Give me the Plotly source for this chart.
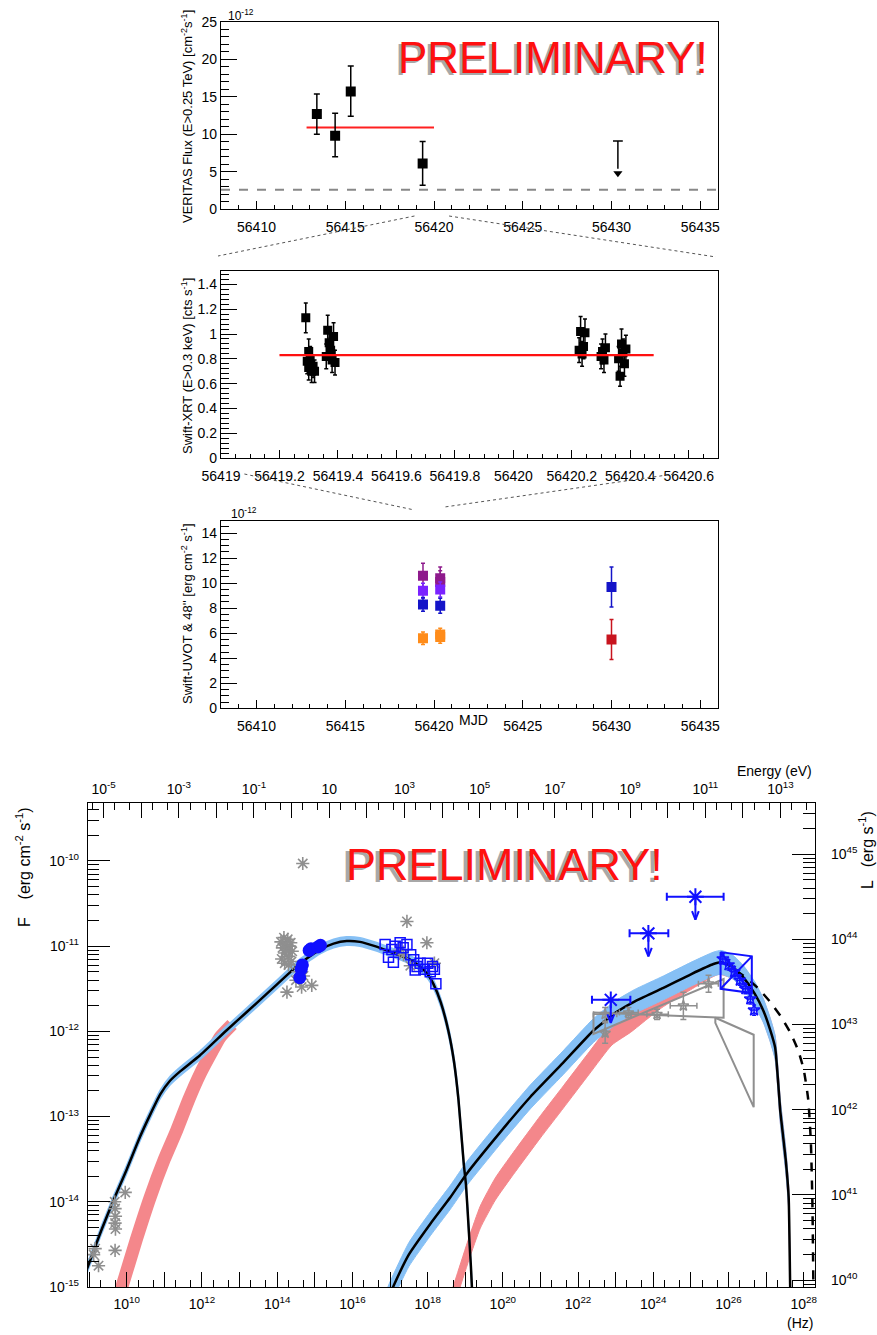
import plotly.graph_objects as go

W, H = 877, 1335
FONT = "Liberation Sans, Arial, Helvetica, sans-serif"

# ---------------- Panel 1 : VERITAS light curve ----------------
ver_mjd = [56413.40, 56414.43, 56415.31, 56419.36]
ver_flux = [12.7, 9.8, 15.7, 6.1]
ver_err_hi = [2.65, 3.0, 3.4, 2.95]
ver_err_lo = [2.7, 2.8, 3.3, 2.9]
ver_ul_mjd = [56430.36]
ver_ul_flux = [9.1]
ver_ul_tip = [4.8]
ver_mean_mjd = [56412.82, 56420.0]
ver_mean_flux = [10.9, 10.9]
ver_ref_flux = [2.6, 2.6]

# ---------------- Panel 2 : Swift-XRT ----------------
xrt_mjd = [56419.290, 56419.295, 56419.300, 56419.300, 56419.305, 56419.310, 56419.315, 56419.320,
           56419.360, 56419.365, 56419.370, 56419.375, 56419.380, 56419.385, 56419.390,
           56420.225, 56420.230, 56420.235, 56420.240, 56420.245,
           56420.300, 56420.305, 56420.310, 56420.315,
           56420.360, 56420.365, 56420.370, 56420.375, 56420.380, 56420.385]
xrt_rate = [1.13, 0.78, 0.73, 0.86, 0.80, 0.70, 0.74, 0.70,
            0.82, 1.03, 0.93, 0.87, 0.79, 0.98, 0.77,
            0.87, 1.02, 0.84, 0.90, 1.01,
            0.82, 0.86, 0.79, 0.89,
            0.80, 0.66, 0.92, 0.85, 0.76, 0.88]
xrt_err = [0.12, 0.10, 0.10, 0.10, 0.10, 0.09, 0.09, 0.09,
           0.10, 0.12, 0.11, 0.10, 0.10, 0.11, 0.10,
           0.10, 0.12, 0.10, 0.10, 0.11,
           0.10, 0.10, 0.10, 0.11,
           0.10, 0.08, 0.12, 0.11, 0.10, 0.11]
xrt_mean_mjd = [56419.20, 56420.48]
xrt_mean_rate = [0.83, 0.83]

# ---------------- Panel 3 : Swift-UVOT ----------------
uvot_purple_mjd = [56419.38, 56420.35, 56420.35]
uvot_purple_flux = [10.6, 10.4, 10.1]
uvot_purple_err = [1.0, 0.9, 0.9]
uvot_violet_mjd = [56419.38, 56420.35]
uvot_violet_flux = [9.4, 9.5]
uvot_violet_err = [0.6, 0.6]
uvot_blue_mjd = [56419.38, 56420.35, 56430.0]
uvot_blue_flux = [8.3, 8.2, 9.7]
uvot_blue_err = [0.55, 0.6, 1.6]
uvot_orange_mjd = [56419.38, 56420.35, 56420.35]
uvot_orange_flux = [5.6, 5.9, 5.7]
uvot_orange_err = [0.5, 0.5, 0.5]
uvot_red_mjd = [56430.0]
uvot_red_flux = [5.5]
uvot_red_err = [1.6]

# ---------------- Panel 4 : SED (log10 nu [Hz], log10 nuFnu [erg cm-2 s-1]) ----------------
sync_lognu = [8.90, 9.32, 9.65, 10.0, 10.35, 10.62, 10.89, 11.15, 11.42, 11.95, 12.65, 13.2, 13.72,
              14.26, 14.61, 15.14, 15.5, 15.85, 16.2, 16.6, 17.09, 17.5, 17.8, 18.0, 18.15, 18.35,
              18.55, 18.7, 18.82, 18.96, 19.02, 19.09, 19.15, 19.2]
sync_logF = [-14.84, -14.34, -13.98, -13.62, -13.24, -12.98, -12.74, -12.58, -12.47, -12.28, -11.99,
             -11.77, -11.56, -11.34, -11.2, -11.04, -10.97, -10.94, -10.95, -11.0, -11.08, -11.15,
             -11.24, -11.33, -11.44, -11.66, -11.99, -12.35, -12.8, -13.55, -13.8, -14.3, -14.75, -15.2]
sync_band_dex = 0.05
ic_lognu = [16.75, 17.0, 17.5, 18.07, 18.6, 19.04, 19.9, 20.73, 21.6, 22.41, 23.0, 23.5, 24.27, 25.0,
            25.6, 25.8, 26.1, 26.4, 26.7, 26.93, 27.1, 27.24, 27.38, 27.52, 27.6, 27.64, 27.66]
ic_logF = [-15.35, -15.08, -14.62, -14.26, -13.95, -13.67, -13.2, -12.77, -12.37, -11.99, -11.78, -11.65,
           -11.49, -11.33, -11.21, -11.19, -11.24, -11.37, -11.56, -11.76, -11.97, -12.19, -12.95,
           -13.5, -13.95, -15.0, -15.3]
ic_band_dex = 0.14
ic_deabs_lognu = [26.2, 26.5, 26.8, 27.1, 27.4, 27.65, 27.85, 28.0, 28.12, 28.19, 28.23, 28.26]
ic_deabs_logF = [-11.29, -11.38, -11.5, -11.65, -11.83, -12.02, -12.22, -12.45, -12.8, -13.3, -14.0, -15.1]
low_sync_lognu = [9.72, 9.87, 10.25, 10.62, 11.0, 11.33, 11.65, 11.95, 12.25, 12.48, 12.8]
low_sync_logF = [-15.2, -15.0, -14.45, -13.95, -13.5, -13.16, -12.8, -12.5, -12.25, -12.07, -11.92]
low_ic_lognu = [18.4, 18.77, 19.1, 19.4, 19.8, 20.28, 21.0, 21.61, 22.3, 22.9, 23.4, 24.2, 25.0, 25.45,
                25.75, 26.1, 26.4, 26.7, 26.93, 27.1, 27.24, 27.38, 27.52, 27.6, 27.64, 27.66]
low_ic_logF = [-15.5, -15.0, -14.55, -14.18, -13.85, -13.55, -13.12, -12.77, -12.37, -12.03, -11.88,
               -11.6, -11.38, -11.26, -11.2, -11.25, -11.37, -11.56, -11.76, -11.97, -12.19, -12.95,
               -13.5, -13.95, -15.0, -15.3]
low_ic_band_dex = 0.13

arch_lognu = [9.12, 9.16, 9.25, 9.68, 9.69, 9.70, 9.69, 9.70, 9.69, 9.96,
              14.10, 14.14, 14.18, 14.20, 14.22, 14.25, 14.28, 14.30, 14.33, 14.36, 14.40, 14.12,
              14.20, 14.30, 14.38, 14.26, 14.50, 14.65, 14.92, 14.55, 14.70, 14.68,
              17.45, 17.98, 17.36, 18.18, 17.54, 17.25]
arch_logF = [-14.62, -14.55, -14.75, -14.00, -14.08, -14.17, -14.25, -14.32, -14.57, -13.89,
             -10.95, -11.02, -10.90, -11.08, -10.98, -11.05, -10.92, -11.12, -11.00, -10.96, -11.06,
             -11.15, -11.20, -11.22, -11.18, -11.54, -11.40, -11.48, -11.46, -11.30, -11.35, -10.03,
             -10.71, -10.96, -11.10, -11.20, -11.23, -11.05]

uvot_sed_lognu = [14.60, 14.64, 14.67, 14.85, 14.90, 15.08, 15.15]
uvot_sed_logF = [-11.37, -11.27, -11.22, -11.05, -11.03, -11.01, -10.99]

xrt_sed_lognu = [16.87, 16.96, 17.05, 17.09, 17.14, 17.27, 17.35, 17.45, 17.55, 17.63, 17.67, 17.72,
                 17.80, 17.90, 18.00, 18.07, 18.13, 18.18, 18.22]
xrt_sed_logF = [-10.98, -11.13, -11.04, -11.19, -11.00, -10.96, -11.02, -10.98, -11.10, -11.16, -11.28,
                -11.24, -11.20, -11.27, -11.20, -11.30, -11.24, -11.27, -11.44]

lat_ul_lognu = [22.87, 23.87, 25.12]
lat_ul_lo = [22.37, 23.37, 24.36]
lat_ul_hi = [23.39, 24.40, 25.87]
lat_ul_logF = [-11.63, -10.85, -10.42]

arch_lat_lognu = [22.72, 22.72, 23.34, 24.10, 24.80, 25.47]
arch_lat_lo = [22.41, 22.68, 23.10, 23.83, 24.45, 25.20]
arch_lat_hi = [23.03, 22.76, 23.60, 24.40, 25.16, 25.73]
arch_lat_logF = [-11.80, -12.02, -11.78, -11.80, -11.70, -11.44]
arch_lat_dF = [0.08, 0.12, 0.06, 0.06, 0.16, 0.10]

arch_bowtie_lognu = [22.41, 25.87, 25.87, 22.41, 22.41]
arch_bowtie_logF = [-11.78, -11.84, -11.385, -12.03, -11.78]
arch_vhe_bowtie_lognu = [25.65, 26.67, 26.67, 25.65, 25.65]
arch_vhe_bowtie_logF = [-11.84, -12.04, -12.89, -11.90, -11.84]

vts_lognu = [25.85, 26.00, 26.15, 26.30, 26.45, 26.58, 26.68]
vts_logF = [-11.15, -11.22, -11.30, -11.40, -11.50, -11.62, -11.75]
vts_bowtie_lognu = [25.79, 26.62, 26.62, 25.79, 25.79, 26.62, None, 25.79, 26.62]
vts_bowtie_logF = [-11.07, -11.12, -11.55, -11.50, -11.07, -11.55, None, -11.50, -11.12]

# axis geometry (pixels of the 877x1335 page)
PX_L, PX_R = 221, 718
MJD_RANGE = [56408, 56436]
XRT_RANGE = [56419, 56420.7]
LOGNU_RANGE = [8.97, 28.30]
LOGF_RANGE = [-15.0, -9.32]
LOG_HNU = -14.3835     # log10(h in eV s)
LOG_L_OFFSET = 54.92   # log10(4 pi d^2)


def lin(a):
    return [None if v is None else 10.0 ** v for v in a]


def band(lognu, logF, dex):
    xs = lin(lognu) + lin(lognu[::-1])
    ys = lin([v + dex for v in logF]) + lin([v - dex for v in logF[::-1]])
    return xs, ys


def xd(a, b):
    return [a / W, b / W]


def yd(top, bottom):
    return [1 - bottom / H, 1 - top / H]


def mjd_px(m):
    return PX_L + (m - MJD_RANGE[0]) / (MJD_RANGE[1] - MJD_RANGE[0]) * (PX_R - PX_L)


def xrt_px(m):
    return PX_L + (m - XRT_RANGE[0]) / (XRT_RANGE[1] - XRT_RANGE[0]) * (PX_R - PX_L)


fig = go.Figure()

# ---- panel 1 traces
fig.add_trace(go.Scatter(x=MJD_RANGE, y=ver_ref_flux, mode="lines", xaxis="x", yaxis="y",
                         line=dict(color="#888888", width=2, dash="dash"), hoverinfo="skip"))
fig.add_trace(go.Scatter(x=ver_mean_mjd, y=ver_mean_flux, mode="lines", xaxis="x", yaxis="y",
                         line=dict(color="#ff2020", width=1.8)))
fig.add_trace(go.Scatter(x=ver_mjd, y=ver_flux, mode="markers", xaxis="x", yaxis="y",
                         marker=dict(symbol="square", size=10, color="black"),
                         error_y=dict(type="data", array=ver_err_hi, arrayminus=ver_err_lo,
                                      color="black", thickness=1.5, width=3)))
fig.add_trace(go.Scatter(x=ver_ul_mjd * 2, y=[ver_ul_flux[0], ver_ul_tip[0] + 0.6], mode="lines",
                         xaxis="x", yaxis="y", line=dict(color="black", width=1.5)))
fig.add_trace(go.Scatter(x=ver_ul_mjd, y=ver_ul_tip, mode="markers", xaxis="x", yaxis="y",
                         marker=dict(symbol="triangle-down", size=8, color="black")))
fig.add_trace(go.Scatter(x=ver_ul_mjd, y=ver_ul_flux, mode="markers", xaxis="x", yaxis="y",
                         marker=dict(symbol="line-ew", size=7, line=dict(color="black", width=1.5))))

# ---- panel 2 traces
fig.add_trace(go.Scatter(x=xrt_mjd, y=xrt_rate, mode="markers", xaxis="x2", yaxis="y2",
                         marker=dict(symbol="square", size=9, color="black"),
                         error_y=dict(type="data", array=xrt_err, color="black", thickness=1.5, width=2)))
fig.add_trace(go.Scatter(x=xrt_mean_mjd, y=xrt_mean_rate, mode="lines", xaxis="x2", yaxis="y2",
                         line=dict(color="#ff1010", width=2.2)))

# ---- panel 3 traces
for mjd, fl, er, col in [(uvot_purple_mjd, uvot_purple_flux, uvot_purple_err, "#8e1a8c"),
                         (uvot_violet_mjd, uvot_violet_flux, uvot_violet_err, "#7a22ff"),
                         (uvot_blue_mjd, uvot_blue_flux, uvot_blue_err, "#1414c8"),
                         (uvot_orange_mjd, uvot_orange_flux, uvot_orange_err, "#ff8c1a"),
                         (uvot_red_mjd, uvot_red_flux, uvot_red_err, "#c8141e")]:
    fig.add_trace(go.Scatter(x=mjd, y=fl, mode="markers", xaxis="x3", yaxis="y3",
                             marker=dict(symbol="square", size=10, color=col),
                             error_y=dict(type="data", array=er, color=col, thickness=1.5, width=2)))

# ---- panel 4 (SED)
SPL = dict(shape="spline", smoothing=0.5)
RED_BAND = "#f4878b"
BLUE_BAND = "#86c0f5"
fig.add_trace(go.Scatter(x=lin(low_sync_lognu), y=lin(low_sync_logF), mode="lines", xaxis="x4", yaxis="y4",
                         line=dict(color=RED_BAND, width=13, **SPL)))
bx, by = band(low_ic_lognu, low_ic_logF, low_ic_band_dex)
fig.add_trace(go.Scatter(x=bx, y=by, mode="lines", fill="toself", fillcolor=RED_BAND, xaxis="x4", yaxis="y4",
                         line=dict(color=RED_BAND, width=1, **SPL)))
bx, by = band(sync_lognu, sync_logF, sync_band_dex)
fig.add_trace(go.Scatter(x=bx, y=by, mode="lines", fill="toself", fillcolor=BLUE_BAND, xaxis="x4", yaxis="y4",
                         line=dict(color=BLUE_BAND, width=1.5, **SPL)))
bx, by = band(ic_lognu, ic_logF, ic_band_dex)
fig.add_trace(go.Scatter(x=bx, y=by, mode="lines", fill="toself", fillcolor=BLUE_BAND, xaxis="x4", yaxis="y4",
                         line=dict(color=BLUE_BAND, width=1, **SPL)))
fig.add_trace(go.Scatter(x=lin(sync_lognu), y=lin(sync_logF), mode="lines", xaxis="x4", yaxis="y4",
                         line=dict(color="black", width=2.5, **SPL)))
fig.add_trace(go.Scatter(x=lin(ic_lognu), y=lin(ic_logF), mode="lines", xaxis="x4", yaxis="y4",
                         line=dict(color="black", width=2.5, **SPL)))
fig.add_trace(go.Scatter(x=lin(ic_deabs_lognu), y=lin(ic_deabs_logF), mode="lines", xaxis="x4", yaxis="y4",
                         line=dict(color="black", width=2.5, dash="dash", **SPL)))

GRAY = "#8f8f8f"
BLUE = "#1010ff"
# archival bowties and LAT points
fig.add_trace(go.Scatter(x=lin(arch_bowtie_lognu), y=lin(arch_bowtie_logF), mode="lines", xaxis="x4",
                         yaxis="y4", line=dict(color=GRAY, width=2)))
fig.add_trace(go.Scatter(x=lin(arch_vhe_bowtie_lognu), y=lin(arch_vhe_bowtie_logF), mode="lines",
                         xaxis="x4", yaxis="y4", line=dict(color=GRAY, width=2)))
ax = lin(arch_lat_lognu)
ay = lin(arch_lat_logF)
fig.add_trace(go.Scatter(
    x=ax, y=ay, mode="markers", xaxis="x4", yaxis="y4",
    marker=dict(symbol="star-open", size=8, color=GRAY, line=dict(color=GRAY, width=1.5)),
    error_x=dict(type="data", array=[10.0 ** h - v for h, v in zip(arch_lat_hi, ax)],
                 arrayminus=[v - 10.0 ** l for l, v in zip(arch_lat_lo, ax)], color=GRAY, thickness=1.5, width=3),
    error_y=dict(type="data", array=[v * (10.0 ** d - 1) for d, v in zip(arch_lat_dF, ay)],
                 arrayminus=[v * (1 - 10.0 ** -d) for d, v in zip(arch_lat_dF, ay)], color=GRAY, thickness=1.5,
                 width=3)))
# archival asterisks
fig.add_trace(go.Scatter(x=lin(arch_lognu), y=lin(arch_logF), mode="markers", xaxis="x4", yaxis="y4",
                         marker=dict(symbol="asterisk-open", size=11, color=GRAY,
                                     line=dict(color=GRAY, width=1.6))))
# UVOT and XRT SED points
fig.add_trace(go.Scatter(x=lin(uvot_sed_lognu), y=lin(uvot_sed_logF), mode="markers", xaxis="x4", yaxis="y4",
                         marker=dict(symbol="circle", size=13, color=BLUE)))
fig.add_trace(go.Scatter(x=lin(xrt_sed_lognu), y=lin(xrt_sed_logF), mode="markers", xaxis="x4", yaxis="y4",
                         marker=dict(symbol="square-open", size=10, color=BLUE, line=dict(color=BLUE, width=1.5))))
# LAT upper limits
ux = lin(lat_ul_lognu)
uy = lin(lat_ul_logF)
fig.add_trace(go.Scatter(
    x=ux, y=uy, mode="markers", xaxis="x4", yaxis="y4",
    marker=dict(symbol="asterisk-open", size=14, color=BLUE, line=dict(color=BLUE, width=2)),
    error_x=dict(type="data", array=[10.0 ** h - v for h, v in zip(lat_ul_hi, ux)],
                 arrayminus=[v - 10.0 ** l for l, v in zip(lat_ul_lo, ux)], color=BLUE, thickness=2, width=4)))
arrow_x, arrow_y = [], []
for xv, yv in zip(ux, uy):
    tip = yv * 10.0 ** -0.27
    arrow_x += [xv, xv, None, xv * 10.0 ** -0.09, xv, xv * 10.0 ** 0.09, None]
    arrow_y += [yv, tip, None, tip * 10.0 ** 0.1, tip, tip * 10.0 ** 0.1, None]
fig.add_trace(go.Scatter(x=arrow_x, y=arrow_y, mode="lines", xaxis="x4", yaxis="y4",
                         line=dict(color=BLUE, width=2)))
# VERITAS SED
fig.add_trace(go.Scatter(x=lin(vts_bowtie_lognu), y=lin(vts_bowtie_logF), mode="lines", xaxis="x4", yaxis="y4",
                         line=dict(color=BLUE, width=2)))
vx = lin(vts_lognu)
vy = lin(vts_logF)
fig.add_trace(go.Scatter(
    x=vx, y=vy, mode="markers", xaxis="x4", yaxis="y4",
    marker=dict(symbol="star-open", size=9, color=BLUE, line=dict(color=BLUE, width=1.5)),
    error_x=dict(type="data", array=[v * (10.0 ** 0.07 - 1) for v in vx],
                 arrayminus=[v * (1 - 10.0 ** -0.07) for v in vx], color=BLUE, thickness=1.5, width=2),
    error_y=dict(type="data", array=[v * (10.0 ** 0.06 - 1) for v in vy],
                 arrayminus=[v * (1 - 10.0 ** -0.06) for v in vy], color=BLUE, thickness=1.5, width=2)))
# anchors for the secondary SED axes
fig.add_trace(go.Scatter(x=[1.0], y=[1e-12], xaxis="x5", yaxis="y4", mode="markers",
                         marker=dict(opacity=0), hoverinfo="skip"))
fig.add_trace(go.Scatter(x=[1e15], y=[1e43], xaxis="x4", yaxis="y5", mode="markers",
                         marker=dict(opacity=0), hoverinfo="skip"))


# ---------------- axes ----------------
def ax_style(fs=14, **kw):
    d = dict(showline=True, linecolor="black", linewidth=1.3, mirror=True, ticks="inside",
             tickcolor="black", tickwidth=1.2, showgrid=False, zeroline=False, automargin=False,
             tickfont=dict(family=FONT, size=fs, color="black"))
    d.update(kw)
    return d


def minor_lin(step, ln):
    return dict(ticks="inside", dtick=step, ticklen=ln, tickcolor="black", tickwidth=1, showgrid=False)


def minor_vals(vals, ln):
    return dict(ticks="inside", tickmode="array", tickvals=vals, ticklen=ln, tickcolor="black",
                tickwidth=1, showgrid=False)


def sup(e):
    if e == 1:
        return "10"
    return "10<sup>%d</sup>" % e


mjd_ticks = [56410, 56415, 56420, 56425, 56430, 56435]
xrt_ticks = [56419.0, 56419.2, 56419.4, 56419.6, 56419.8, 56420.0, 56420.2, 56420.4, 56420.6]
xrt_ticktext = ["56419", "56419.2", "56419.4", "56419.6", "56419.8", "56420", "56420.2", "56420.4", "56420.6"]

layout = dict(
    width=W, height=H, margin=dict(l=0, r=0, t=0, b=0, pad=0, autoexpand=False),
    paper_bgcolor="white", plot_bgcolor="white", showlegend=False,
    xaxis=ax_style(domain=xd(PX_L, PX_R), range=MJD_RANGE, anchor="y", tickvals=mjd_ticks,
                   ticktext=[str(v) for v in mjd_ticks], ticklen=8,
                   minor=minor_lin(1, 4), ticklabelstandoff=5),
    yaxis=ax_style(domain=yd(21.7, 209.3), range=[0, 25], anchor="x", dtick=5, ticklen=16,
                   minor=minor_lin(1, 8)),
    xaxis2=ax_style(domain=xd(PX_L, PX_R), range=XRT_RANGE, anchor="y2", tickvals=xrt_ticks,
                    ticktext=xrt_ticktext, ticklen=8, minor=minor_lin(0.05, 4), ticklabelstandoff=5),
    yaxis2=ax_style(domain=yd(271, 458.3), range=[0, 1.507], anchor="x2",
                    tickvals=[0, 0.2, 0.4, 0.6, 0.8, 1.0, 1.2, 1.4],
                    ticktext=["0", "0.2", "0.4", "0.6", "0.8", "1", "1.2", "1.4"], ticklen=16,
                    minor=minor_lin(0.04, 8)),
    xaxis3=ax_style(domain=xd(PX_L, PX_R), range=MJD_RANGE, anchor="y3", tickvals=mjd_ticks,
                    ticktext=[str(v) for v in mjd_ticks], ticklen=8,
                    minor=minor_lin(1, 4), ticklabelstandoff=5),
    yaxis3=ax_style(domain=yd(520.7, 708.3), range=[0, 15], anchor="x3", dtick=2, ticklen=16,
                    minor=minor_lin(0.5, 8)),
    xaxis4=ax_style(fs=14, domain=xd(88, 815), type="log", range=LOGNU_RANGE, anchor="y4",
                    tickvals=[10.0 ** e for e in range(9, 29)],
                    ticktext=[sup(e) if e % 2 == 0 else "" for e in range(9, 29)], ticklen=15,
                    minor=minor_vals([m * 10.0 ** e for e in range(8, 29) for m in (2, 5)], 7),
                    ticklabelstandoff=4),
    yaxis4=ax_style(fs=14, domain=yd(803, 1287), type="log", range=LOGF_RANGE, anchor="x4",
                    tickvals=[10.0 ** e for e in range(-15, -9)], ticktext=[sup(e) for e in range(-15, -9)],
                    ticklen=22, minor=minor_vals([m * 10.0 ** e for e in range(-16, -9) for m in range(2, 10)], 11),
                    ticklabelstandoff=5),
    xaxis5=ax_style(fs=14, type="log", overlaying="x4", side="top", anchor="y4",
                    range=[LOGNU_RANGE[0] + LOG_HNU, LOGNU_RANGE[1] + LOG_HNU],
                    tickvals=[10.0 ** e for e in range(-6, 15)],
                    ticktext=[sup(e) if e % 2 != 0 else "" for e in range(-6, 15)], ticklen=15,
                    minor=minor_vals([m * 10.0 ** e for e in range(-7, 15) for m in (2, 5)], 7),
                    ticklabelstandoff=2),
    yaxis5=ax_style(fs=14, type="log", overlaying="y4", side="right", anchor="x4",
                    range=[LOGF_RANGE[0] + LOG_L_OFFSET, LOGF_RANGE[1] + LOG_L_OFFSET],
                    tickvals=[10.0 ** e for e in range(39, 47)], ticktext=[sup(e) for e in range(39, 47)],
                    ticklen=23, minor=minor_vals([m * 10.0 ** e for e in range(39, 46) for m in range(2, 10)], 12),
                    ticklabelstandoff=12),
)
fig.update_layout(**layout)

# ---------------- text ----------------
ann = []


def add_text(txt, px, py, size, color="black", angle=0, xs=0, ys=0, xanchor="center"):
    ann.append(dict(text=txt, x=px / W, y=1 - py / H, xref="paper", yref="paper", showarrow=False,
                    font=dict(family=FONT, size=size, color=color), textangle=angle,
                    xanchor=xanchor, yanchor="middle", xshift=xs, yshift=ys))


add_text("VERITAS Flux (E>0.25 TeV) [cm<sup>-2</sup>s<sup>-1</sup>]", 187, 117, 13, angle=-90)
add_text("10<sup>-12</sup>", 241, 15, 12)
add_text("Swift-XRT (E>0.3 keV) [cts s<sup>-1</sup>]", 187, 366, 13, angle=-90)
add_text("Swift-UVOT & 48'' [erg cm<sup>-2</sup> s<sup>-1</sup>]", 187, 614, 13, angle=-90)
add_text("10<sup>-12</sup>", 244, 513, 12)
add_text("MJD", 473, 720, 14)
# PRELIMINARY stamps (gray shadow + red)
add_text("PRELIMINARY!", 553, 57, 44, color="#a8a8a8", xs=-3, ys=-2)
add_text("PRELIMINARY!", 553, 57, 44, color="#ff1010")
add_text("PRELIMINARY!", 504, 864, 45, color="#a8a8a8", xs=-4, ys=-2)
add_text("PRELIMINARY!", 504, 864, 45, color="#ff1010")
# SED axis titles
add_text("F    (erg cm<sup>-2</sup> s<sup>-1</sup>)", 23, 868, 16, angle=-90)
add_text("L   (erg s<sup>-1</sup>)", 866, 850, 16, angle=-90)
add_text("Energy (eV)", 774, 771, 14)
add_text("(Hz)", 800, 1323, 14)
fig.update_layout(annotations=ann)

# ---------------- zoom guide lines ----------------
shapes = []


def guide(x0, y0, x1, y1):
    shapes.append(dict(type="line", xref="paper", yref="paper", x0=x0 / W, y0=1 - y0 / H,
                       x1=x1 / W, y1=1 - y1 / H, line=dict(color="#555555", width=1, dash="dot")))


guide(mjd_px(XRT_RANGE[0] - 0.1), 216, PX_L - 3, 256)
guide(mjd_px(XRT_RANGE[1] + 0.15), 216, PX_R - 2, 257)
guide(xrt_px(56419.08), 474, mjd_px(56418.9), 510)
guide(xrt_px(56420.55), 474, mjd_px(56420.6), 507)
fig.update_layout(shapes=shapes)

fig.write_html("out.html", config={"displayModeBar": False},
               post_script="document.body.style.margin='0px';document.body.style.overflow='hidden';")
